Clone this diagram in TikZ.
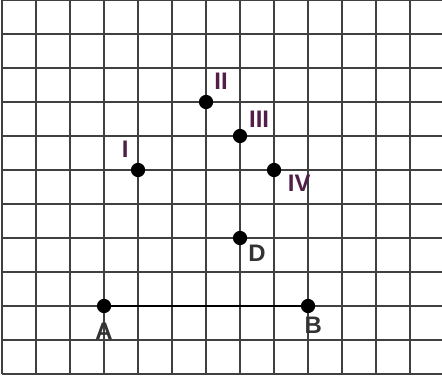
\documentclass[tikz,border=0pt]{standalone}
\usepackage{fontspec}
\setmainfont{Liberation Sans}
\definecolor{numcol}{RGB}{80,30,70}

\begin{document}
\begin{tikzpicture}[x=1cm, y=1cm,
  pt/.style={shape=circle, fill=black, inner sep=0pt, minimum size=0.42cm},
  lbl/.style={font=\fontsize{20}{24}\selectfont\bfseries, text=black!80, inner sep=0pt},
  num/.style={lbl, text=numcol}]
\useasboundingbox (-0.06,-0.26) rectangle (12.94,11);
\fill[white] (-0.06,-0.26) rectangle (12.94,11);
\draw[line width=2pt, black!75] (0,0) grid (12.94,11);
% points
\node[pt] (A) at (3,2) {};
\node[pt] (B) at (9,2) {};
\node[pt] (D) at (7,4) {};
\node[pt] (P1) at (4,6) {};
\node[pt] (P2) at (6,8) {};
\node[pt] (P3) at (7,7) {};
\node[pt] (P4) at (8,6) {};
\draw[line width=2.2pt] (A.center) -- (B.center);
% labels
\node[lbl] (lA) at (3,1.25) {A};
\node[lbl] (lB) at (9.15,1.42) {B};
\node[lbl] (lD) at (7.5,3.54) {D};
\node[num] (l1) at (3.62,6.62) {I};
\node[num] (l2) at (6.44,8.6) {II};
\node[num] (l3) at (7.56,7.48) {III};
\node[num] (l4) at (8.74,5.6) {IV};
\end{tikzpicture}
\end{document}
